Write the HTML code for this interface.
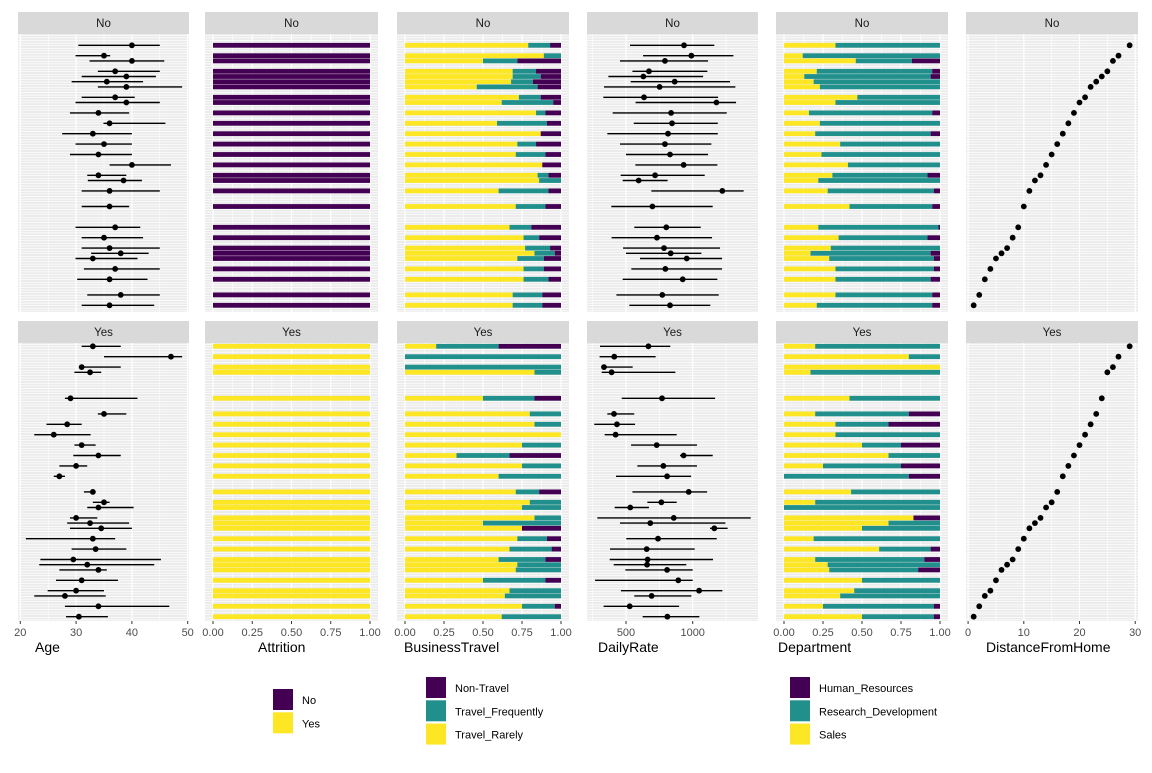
<!DOCTYPE html>
<html><head><meta charset="utf-8">
<style>
body{margin:0;background:#fff;font-family:"Liberation Sans",Arial,sans-serif;}
svg text{font-family:"Liberation Sans",Arial,sans-serif;}
</style></head>
<body>
<svg id="chart" width="1152" height="768" viewBox="0 0 1152 768" xmlns="http://www.w3.org/2000/svg"></svg>
<script>
// ---- data ----
const distances = [29,27,26,25,24,23,22,21,20,19,18,17,16,15,14,13,12,11,10,9,8,7,6,5,4,3,2,1];
const levelsNo = [0,2,3,5,6,7,8,10,11,13,15,17,19,21,23,25,26,28,31,35,37,39,40,41,43,45,48,50];
const levelsYes = [0,2,4,5,10,13,15,17,19,21,23,25,28,30,31,33,34,35,37,39,41,42,43,45,47,48,50,52];
const ageMeanNo=[40,35,40,37,39,35.5,39,37,39,34,36,33,35,34,40,34,38.5,36,36,37,35,36,38,33,37,36,38,36];
const ageLoNo=[30.4,29.9,32.4,33.9,31,29.2,33.9,31,29.9,28.9,34.9,27.5,29.9,28.9,36,32,32.1,31,31,29.9,31,31,32.7,29.9,31.4,30.2,32,31];
const ageHiNo=[45,36.1,45.8,45,44.3,42,49,40.5,45,39.5,46,40,40,40,47,39,41.8,45,39.5,41.5,42,45,43,41,45,42.8,45,44];
const ageMeanYes=[33,47,31,32.5,29,35,28.4,26,31,34,30,27,33,35,34,30,32.5,34.5,33,33.5,29.5,32,34,31,30,28,34,30.5];
const ageLoYes=[31,35,30.6,29.7,28,33.9,24.7,22.5,29.7,29.5,27,26,31.4,33,32,28.9,28.4,28.9,21,29.2,23.6,23.4,27,26.4,24.9,22.5,28,28.2];
const ageHiYes=[38,49,38,34.5,41,39,31,32.6,33.5,38,32,28,33.5,36,40.3,33.8,39.5,40,37,39,45.2,44,35.5,37.5,35,35.3,46.7,35.7];
const rateMeanNo=[935,990,792,672,630,865,752,635,1178,838,845,815,792,830,932,718,595,1222,698,802,732,785,835,955,795,925,772,830];
const rateLoNo=[530,628,455,548,368,535,335,330,572,400,558,360,455,500,570,460,475,690,390,562,392,478,500,605,540,475,428,525];
const rateHiNo=[1162,1305,1115,1110,1078,1280,1320,1190,1325,1255,1188,1188,1140,1115,1185,1090,812,1382,1150,1060,1145,1205,1065,1220,1220,1185,1195,1132];
const rateMeanYes=[668,412,335,392,770,410,432,422,730,932,780,808,970,765,532,858,682,1162,740,655,662,658,808,892,1048,692,528,810];
const rateLoYes=[305,302,318,318,468,360,262,340,538,905,585,425,548,660,415,285,455,1130,502,380,378,408,495,268,462,562,332,625];
const rateHiYes=[832,722,550,870,1168,562,568,880,1032,1150,1032,988,1108,880,672,1435,1245,1262,1180,1015,1152,952,1000,1000,1222,990,898,1050];
// BusinessTravel: share Travel_Rarely, Travel_Frequently (remaining = Non-Travel)
const rarelyNo=[.79,.89,.50,.69,.69,.68,.46,.73,.62,.84,.59,.87,.72,.71,.88,.85,.86,.60,.71,.67,.76,.77,.83,.72,.76,.76,.69,.69];
const freqNo=[.14,.11,.22,.15,.18,.14,.39,.14,.33,.06,.32,0,.12,.19,0,.07,.14,.32,.19,.14,.10,.16,.13,.17,.13,.16,.19,.19];
const rarelyYes=[.20,0,0,.83,.50,.80,.83,1,.75,.33,.75,.60,.71,.80,.75,.83,.50,.75,.72,.67,.60,.72,.71,.50,.67,.64,.75,.62];
const freqYes=[.40,1,1,.17,.33,.20,.17,0,.25,.34,.25,.40,.15,.20,.25,.17,.50,0,.19,.27,.30,.28,.29,.40,.33,.36,.21,.38];
// Department: share Sales, Research_Development (remaining = Human_Resources)
const salesNo=[.33,.12,.46,.21,.13,.19,.23,.47,.33,.16,.23,.20,.36,.24,.41,.31,.22,.28,.42,.22,.35,.30,.17,.29,.33,.33,.33,.21];
const rdNo=[.67,.88,.36,.74,.81,.81,.77,.53,.67,.79,.77,.74,.64,.76,.59,.61,.78,.68,.53,.77,.57,.70,.77,.67,.63,.61,.62,.74];
const salesYes=[.20,.80,1,.17,.42,.20,.33,.33,.50,.67,.25,0,.43,.20,0,.83,.67,.50,.19,.61,.20,.28,.29,.50,.45,.36,.25,.50];
const rdYes=[.80,.20,0,.83,.58,.60,.34,.67,.25,.33,.50,.80,.57,.80,1,0,.33,.50,.81,.33,.70,.72,.57,.50,.55,.64,.71,.46];
const attrLabels=["No","Yes"];
const fracTicks=["0.00","0.25","0.50","0.75","1.00"];
const ageTicks=[20,30,40,50];
const rateTicks=[500,1000];
const distTicks=[0,10,20,30];

const PURPLE="#440154", TEAL="#21908C", YELLOW="#FDE725";
const svg=document.getElementById('chart');
const NS="http://www.w3.org/2000/svg";
function mk(tag,attrs,parent){const e=document.createElementNS(NS,tag);for(const k in attrs)e.setAttribute(k,attrs[k]);(parent||svg).appendChild(e);return e;}

const cols=[[18,189],[205,378],[397,569],[587,758],[776,948],[966,1138]];
const rowsY=[{strip:12,top:34,bot:312,y0:45.3},{strip:321,top:343,bot:621,y0:346.3}];
// axis functions
const xAge=v=>20.3+(v-20)*5.58;
const xFrac=(c)=>v=>cols[c][0]+8+v*(cols[c][1]-cols[c][0]-16);
const xRate=v=>626+(v-500)*0.1334;
const xDist=v=>968.1+v*5.57;
const yLvl=(r,l)=>rowsY[r].y0+5.2*l;

const colNames=['age','attrition','business-travel','daily-rate','department','distance-from-home'];
const majors=[ [20,30,40,50].map(xAge), [0,.25,.5,.75,1].map(xFrac(1)), [0,.25,.5,.75,1].map(xFrac(2)), [500,1000].map(xRate), [0,.25,.5,.75,1].map(xFrac(4)), [0,10,20,30].map(xDist)];
const minors=[ [25,35,45].map(xAge), [.125,.375,.625,.875].map(xFrac(1)), [.125,.375,.625,.875].map(xFrac(2)), [250,750,1250].map(xRate), [.125,.375,.625,.875].map(xFrac(4)), [5,15,25].map(xDist)];

for(let r=0;r<2;r++){
  const R=rowsY[r];
  for(let c=0;c<6;c++){
    const [x0,x1]=cols[c];
    const g=mk('g',{});
    
    
    const st=mk('rect',{x:x0,y:R.strip,width:x1-x0,height:R.top-R.strip,fill:'#d9d9d9'},g);
    
    
    const stt=mk('text',{x:(x0+x1)/2,y:R.strip+15,'text-anchor':'middle','font-size':'11.5',fill:'#1a1a1a'},g);
    stt.textContent=attrLabels[r];
    
    
    mk('rect',{x:x0,y:R.top,width:x1-x0,height:R.bot-R.top,fill:'#ebebeb'},g);
    for(let y=R.top+1.3;y<R.bot;y+=2.6){mk('line',{x1:x0,x2:x1,y1:y,y2:y,stroke:'#fff','stroke-width':0.7},g);}
    minors[c].forEach(x=>{if(x>x0&&x<x1)mk('line',{x1:x,x2:x,y1:R.top,y2:R.bot,stroke:'#fff','stroke-width':0.6},g);});
    majors[c].forEach(x=>{if(x>=x0&&x<=x1)mk('line',{x1:x,x2:x,y1:R.top,y2:R.bot,stroke:'#fff','stroke-width':1.2},g);});
  }
}

function pointRange(r,means,los,his,xf){
  const lv=r?levelsYes:levelsNo;
  means.forEach((m,i)=>{
    const y=yLvl(r,lv[i]);
    const l=mk('line',{x1:xf(los[i]),x2:xf(his[i]),y1:y,y2:y,stroke:'#000','stroke-width':1.4});
    
    
    const p=mk('circle',{cx:xf(m),cy:y,r:2.9,fill:'#000'});
    
    
  });
}
function stack(r,c,a,b){
  const lv=r?levelsYes:levelsNo; const xf=xFrac(c);
  a.forEach((v,i)=>{
    const y=yLvl(r,lv[i])-2.4;
    const s1=Math.min(1,v), s2=Math.min(1,v+b[i]);
    const segs=[[0,s1,YELLOW],[s1,s2,TEAL],[s2,1,PURPLE]];
    segs.forEach(s=>{ if(s[1]-s[0]>0.001){
      const rc=mk('rect',{x:xf(s[0]),y:y,width:xf(s[1])-xf(s[0]),height:4.8,fill:s[2]});
      
      
    }});
  });
}
for(let r=0;r<2;r++){
  const lv=r?levelsYes:levelsNo;
  pointRange(r,r?ageMeanYes:ageMeanNo,r?ageLoYes:ageLoNo,r?ageHiYes:ageHiNo,xAge);
  lv.forEach((l,i)=>{
    const rc=mk('rect',{x:xFrac(1)(0),y:yLvl(r,l)-2.4,width:xFrac(1)(1)-xFrac(1)(0),height:4.8,fill:r?YELLOW:PURPLE});
    
    
  });
  stack(r,2,r?rarelyYes:rarelyNo,r?freqYes:freqNo);
  pointRange(r,r?rateMeanYes:rateMeanNo,r?rateLoYes:rateLoNo,r?rateHiYes:rateHiNo,xRate);
  stack(r,4,r?salesYes:salesNo,r?rdYes:rdNo);
  distances.forEach((d,i)=>{
    const p=mk('circle',{cx:xDist(d),cy:yLvl(r,lv[i]),r:2.9,fill:'#000'});
    
    
  });
}
// x axes
function axis(c,vals,labels,xf){
  vals.forEach((v,i)=>{
    const x=xf(v);
    mk('line',{x1:x,x2:x,y1:621,y2:624,stroke:'#333','stroke-width':1});
    const t=mk('text',{x:x,y:636,'text-anchor':'middle','font-size':'11',fill:'#4d4d4d'});
    t.textContent=labels[i];
    
    
  });
}
axis(0,ageTicks,ageTicks,xAge);
axis(1,[0,.25,.5,.75,1],fracTicks,xFrac(1));
axis(2,[0,.25,.5,.75,1],fracTicks,xFrac(2));
axis(3,rateTicks,rateTicks,xRate);
axis(4,[0,.25,.5,.75,1],fracTicks,xFrac(4));
axis(5,distTicks,distTicks,xDist);
const titles=[["Age",35],["Attrition",258],["BusinessTravel",404],["DailyRate",598],["Department",778],["DistanceFromHome",986]];
titles.forEach(t=>{
  const e=mk('text',{x:t[1],y:652,'font-size':'14',fill:'#000'});
  e.textContent=t[0];
  
  
});
// legends
function legend(x,y0,items){
  items.forEach((it,i)=>{
    const y=y0+i*23.3;
    const k=mk('rect',{x:x,y:y,width:20,height:21,fill:it[1]});
    
    
    const t=mk('text',{x:x+29,y:y+15,'font-size':'11',fill:'#000'});
    t.textContent=it[0];
    
    
  });
}
legend(273,689,[["No",PURPLE],["Yes",YELLOW]]);
legend(426,677,[["Non-Travel",PURPLE],["Travel_Frequently",TEAL],["Travel_Rarely",YELLOW]]);
legend(790,677,[["Human_Resources",PURPLE],["Research_Development",TEAL],["Sales",YELLOW]]);
</script>
</body></html>
